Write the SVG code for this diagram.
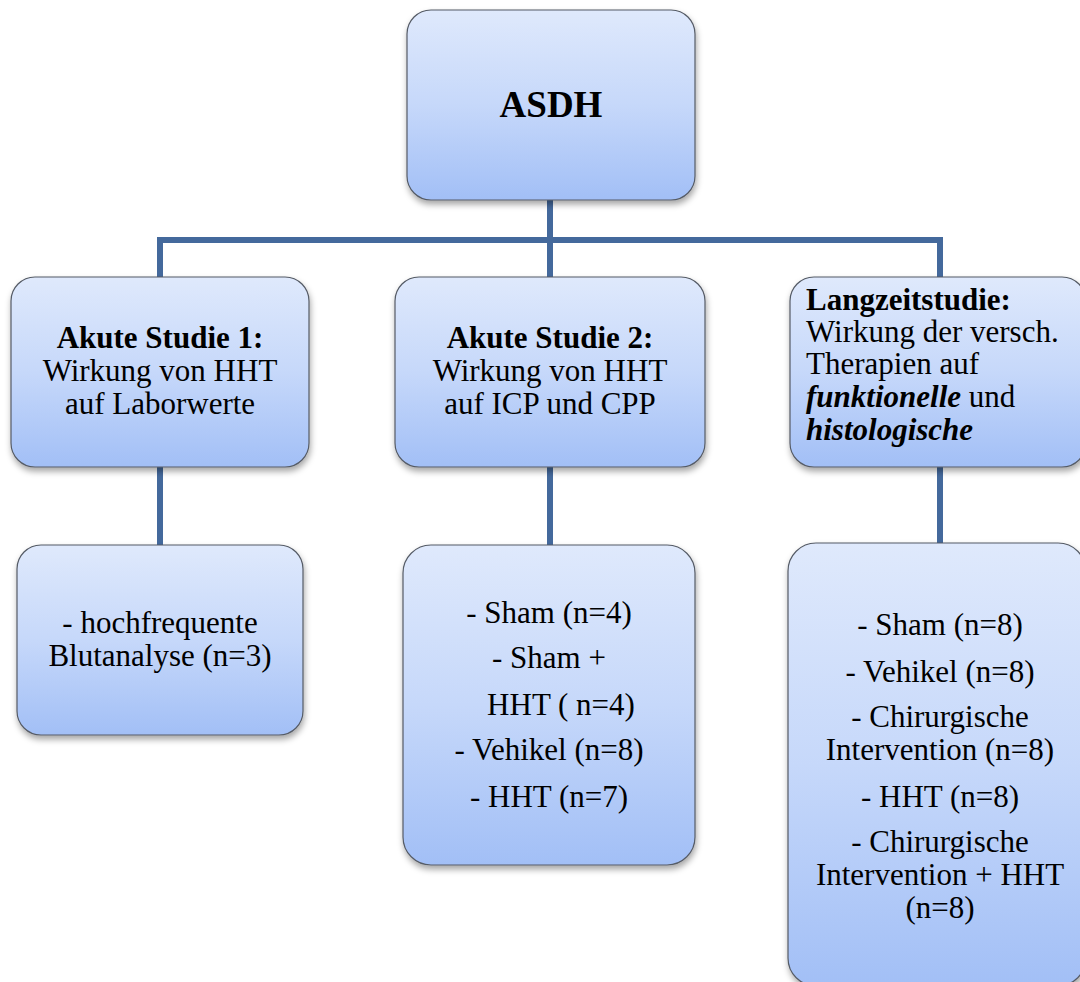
<svg xmlns="http://www.w3.org/2000/svg" width="1080" height="982" viewBox="0 0 1080 982">
  <defs>
    <linearGradient id="boxFill" x1="0" y1="0" x2="0" y2="1">
      <stop offset="0" stop-color="#dfe9fc"/>
      <stop offset="0.5" stop-color="#c6d8fa"/>
      <stop offset="1" stop-color="#a2bff6"/>
    </linearGradient>
    <filter id="shadow" x="-10%" y="-10%" width="130%" height="130%">
      <feDropShadow dx="1" dy="4" stdDeviation="3" flood-color="#000" flood-opacity="0.35"/>
    </filter>
  </defs>
  <style>
    .box { fill: url(#boxFill); stroke: #555b66; stroke-width: 1.2; filter: url(#shadow); }
    .conn { fill: none; stroke: #44699c; stroke-width: 6; }
    text { font-family: 'Liberation Serif', serif; fill: #000; font-size: 31px; }
    .c { text-anchor: middle; }
    .b { font-weight: bold; }
    .bi { font-weight: bold; font-style: italic; }
    .title { font-size: 37px; }
  </style>
  <rect width="1080" height="982" fill="#fff"/>

  <!-- connectors -->
  <g id="connectors">
    <path class="conn" d="M550 200 V240"/>
    <path class="conn" d="M160 277 V240 H940 V277"/>
    <path class="conn" d="M550 240 V277"/>
    <path class="conn" d="M160 467 V545"/>
    <path class="conn" d="M550 467 V545"/>
    <path class="conn" d="M940 467 V543"/>
  </g>

  <!-- root -->
  <g id="asdh">
    <rect class="box" x="407" y="10" width="288" height="190" rx="24"/>
    <text class="c b title" x="551" y="117">ASDH</text>
  </g>

  <!-- second level -->
  <g id="akute-studie-1">
    <rect class="box" x="11" y="277" width="298" height="190" rx="24"/>
    <text class="c b" x="160" y="348">Akute Studie 1:</text>
    <text class="c" x="160" y="381">Wirkung von HHT</text>
    <text class="c" x="160" y="414">auf Laborwerte</text>
  </g>

  <g id="akute-studie-2">
    <rect class="box" x="395" y="277" width="310" height="190" rx="24"/>
    <text class="c b" x="550" y="348">Akute Studie 2:</text>
    <text class="c" x="550" y="381">Wirkung von HHT</text>
    <text class="c" x="550" y="414">auf ICP und CPP</text>
  </g>

  <g id="langzeitstudie">
    <rect class="box" x="790" y="277" width="296" height="190" rx="24"/>
    <text x="806" y="310" class="b">Langzeitstudie:</text>
    <text x="806" y="342">Wirkung der versch.</text>
    <text x="806" y="374">Therapien auf</text>
    <text x="806" y="407"><tspan class="bi">funktionelle</tspan> und</text>
    <text x="806" y="440" class="bi">histologische</text>
  </g>

  <!-- third level -->
  <g id="gruppen-1">
    <rect class="box" x="17" y="545" width="286" height="190" rx="24"/>
    <text class="c" x="160" y="633">- hochfrequente</text>
    <text class="c" x="160" y="666">Blutanalyse (n=3)</text>
  </g>

  <g id="gruppen-2">
    <rect class="box" x="403" y="545" width="292" height="320" rx="28"/>
    <text class="c" x="549" y="623">- Sham (n=4)</text>
    <text class="c" x="549" y="668">- Sham +</text>
    <text class="c" x="561" y="715">HHT ( n=4)</text>
    <text class="c" x="549" y="760">- Vehikel (n=8)</text>
    <text class="c" x="549" y="807">- HHT (n=7)</text>
  </g>

  <g id="gruppen-3">
    <rect class="box" x="788" y="543" width="298" height="443" rx="28"/>
    <text class="c" x="940" y="635">- Sham (n=8)</text>
    <text class="c" x="940" y="682">- Vehikel (n=8)</text>
    <text class="c" x="940" y="727">- Chirurgische</text>
    <text class="c" x="940" y="760">Intervention (n=8)</text>
    <text class="c" x="940" y="807">- HHT (n=8)</text>
    <text class="c" x="940" y="852">- Chirurgische</text>
    <text class="c" x="940" y="885">Intervention + HHT</text>
    <text class="c" x="940" y="918">(n=8)</text>
  </g>
</svg>
